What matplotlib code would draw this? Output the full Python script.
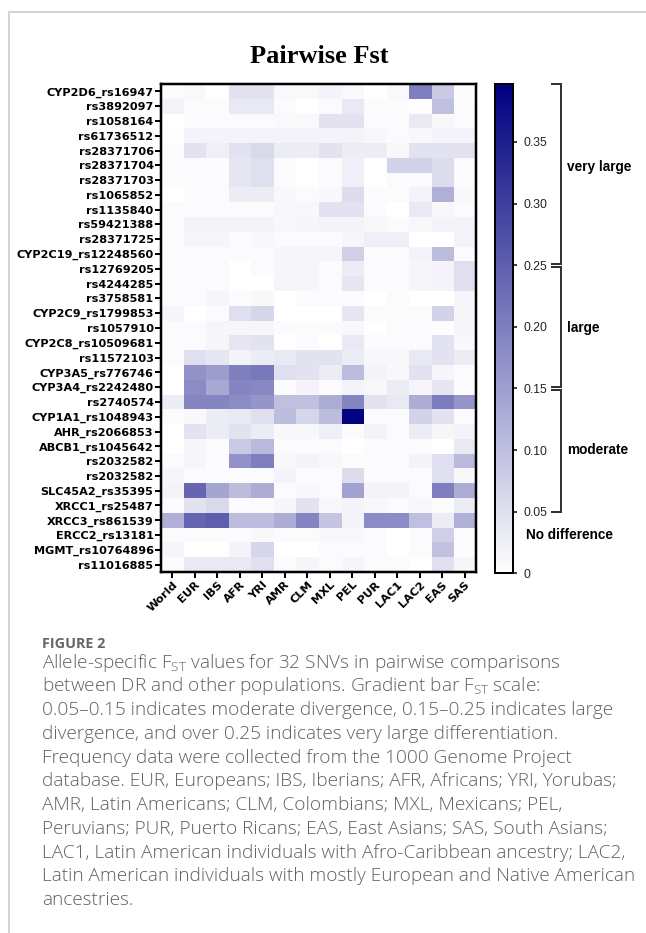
import numpy as np
import matplotlib
matplotlib.use('Agg')
import matplotlib.pyplot as plt
from matplotlib.colors import LinearSegmentedColormap
from matplotlib.lines import Line2D
import matplotlib.transforms as mtransforms

plt.rcParams['mathtext.default'] = 'regular'

populations = ['World', 'EUR', 'IBS', 'AFR', 'YRI', 'AMR', 'CLM', 'MXL',
               'PEL', 'PUR', 'LAC1', 'LAC2', 'EAS', 'SAS']

snvs = ['CYP2D6_rs16947', 'rs3892097', 'rs1058164', 'rs61736512', 'rs28371706',
        'rs28371704', 'rs28371703', 'rs1065852', 'rs1135840', 'rs59421388',
        'rs28371725', 'CYP2C19_rs12248560', 'rs12769205', 'rs4244285', 'rs3758581',
        'CYP2C9_rs1799853', 'rs1057910', 'CYP2C8_rs10509681', 'rs11572103',
        'CYP3A5_rs776746', 'CYP3A4_rs2242480', 'rs2740574', 'CYP1A1_rs1048943',
        'AHR_rs2066853', 'ABCB1_rs1045642', 'rs2032582', 'rs2032582',
        'SLC45A2_rs35395', 'XRCC1_rs25487', 'XRCC3_rs861539', 'ERCC2_rs13181',
        'MGMT_rs10764896', 'rs11016885']

fst = np.array([
    [0.005, 0.01, 0.0, 0.045, 0.045, 0.01, 0.01, 0.02, 0.01, 0.0, 0.01, 0.2, 0.085, 0.005],
    [0.02, 0.007, 0.007, 0.035, 0.035, 0.007, 0.0, 0.007, 0.035, 0.007, 0.007, 0.004, 0.1, 0.007],
    [0.0, 0.007, 0.007, 0.007, 0.007, 0.01, 0.01, 0.045, 0.045, 0.007, 0.007, 0.035, 0.012, 0.007],
    [0.004, 0.02, 0.02, 0.02, 0.02, 0.02, 0.02, 0.02, 0.02, 0.012, 0.007, 0.012, 0.02, 0.02],
    [0.007, 0.045, 0.025, 0.045, 0.06, 0.03, 0.03, 0.045, 0.03, 0.03, 0.012, 0.045, 0.045, 0.045],
    [0.007, 0.007, 0.007, 0.04, 0.05, 0.007, 0.0, 0.007, 0.025, 0.0, 0.07, 0.07, 0.055, 0.007],
    [0.007, 0.007, 0.007, 0.04, 0.05, 0.007, 0.0, 0.007, 0.025, 0.0, 0.007, 0.007, 0.055, 0.007],
    [0.0, 0.007, 0.007, 0.03, 0.03, 0.012, 0.007, 0.012, 0.055, 0.007, 0.007, 0.02, 0.125, 0.012],
    [0.007, 0.007, 0.007, 0.007, 0.007, 0.012, 0.012, 0.045, 0.045, 0.007, 0.0, 0.035, 0.012, 0.007],
    [0.007, 0.02, 0.02, 0.02, 0.02, 0.012, 0.015, 0.02, 0.02, 0.012, 0.007, 0.012, 0.02, 0.02],
    [0.007, 0.015, 0.015, 0.007, 0.012, 0.007, 0.007, 0.007, 0.015, 0.025, 0.025, 0.0, 0.0, 0.02],
    [0.007, 0.007, 0.007, 0.007, 0.007, 0.015, 0.015, 0.015, 0.075, 0.007, 0.007, 0.02, 0.105, 0.007],
    [0.007, 0.007, 0.007, 0.0, 0.007, 0.015, 0.015, 0.007, 0.03, 0.007, 0.007, 0.015, 0.02, 0.05],
    [0.007, 0.007, 0.007, 0.0, 0.0, 0.015, 0.015, 0.007, 0.04, 0.007, 0.007, 0.015, 0.02, 0.05],
    [0.007, 0.007, 0.015, 0.007, 0.012, 0.0, 0.007, 0.007, 0.007, 0.0, 0.007, 0.0, 0.0, 0.015],
    [0.015, 0.0, 0.007, 0.05, 0.065, 0.0, 0.0, 0.0, 0.04, 0.007, 0.007, 0.007, 0.07, 0.015],
    [0.007, 0.007, 0.015, 0.015, 0.015, 0.007, 0.007, 0.007, 0.012, 0.0, 0.007, 0.007, 0.003, 0.015],
    [0.007, 0.007, 0.015, 0.04, 0.045, 0.0, 0.007, 0.0, 0.035, 0.007, 0.007, 0.007, 0.045, 0.012],
    [0.007, 0.05, 0.04, 0.02, 0.03, 0.035, 0.045, 0.045, 0.03, 0.012, 0.012, 0.035, 0.045, 0.03],
    [0.0, 0.17, 0.155, 0.2, 0.21, 0.05, 0.045, 0.03, 0.105, 0.02, 0.012, 0.045, 0.015, 0.007],
    [0.0, 0.18, 0.135, 0.19, 0.185, 0.007, 0.02, 0.007, 0.02, 0.012, 0.03, 0.015, 0.04, 0.007],
    [0.03, 0.19, 0.19, 0.18, 0.165, 0.1, 0.1, 0.13, 0.19, 0.045, 0.035, 0.13, 0.205, 0.165],
    [0.007, 0.012, 0.03, 0.035, 0.05, 0.105, 0.065, 0.105, 0.39, 0.007, 0.007, 0.07, 0.045, 0.007],
    [0.0, 0.045, 0.03, 0.045, 0.03, 0.012, 0.012, 0.025, 0.007, 0.02, 0.007, 0.03, 0.015, 0.02],
    [0.0, 0.015, 0.007, 0.085, 0.11, 0.007, 0.007, 0.007, 0.0, 0.007, 0.007, 0.007, 0.0, 0.035],
    [0.007, 0.015, 0.007, 0.17, 0.2, 0.012, 0.02, 0.012, 0.007, 0.007, 0.007, 0.02, 0.05, 0.11],
    [0.015, 0.007, 0.007, 0.007, 0.007, 0.02, 0.007, 0.007, 0.055, 0.007, 0.007, 0.007, 0.05, 0.012],
    [0.02, 0.24, 0.14, 0.105, 0.13, 0.007, 0.012, 0.007, 0.145, 0.02, 0.02, 0.007, 0.2, 0.13],
    [0.007, 0.045, 0.06, 0.007, 0.007, 0.015, 0.045, 0.012, 0.02, 0.012, 0.007, 0.012, 0.007, 0.03],
    [0.125, 0.24, 0.25, 0.105, 0.105, 0.13, 0.19, 0.09, 0.02, 0.18, 0.18, 0.1, 0.03, 0.125],
    [0.007, 0.007, 0.007, 0.007, 0.012, 0.007, 0.007, 0.012, 0.012, 0.007, 0.0, 0.007, 0.075, 0.007],
    [0.015, 0.0, 0.0, 0.02, 0.065, 0.0, 0.0, 0.007, 0.007, 0.007, 0.0, 0.007, 0.095, 0.007],
    [0.007, 0.035, 0.035, 0.035, 0.05, 0.007, 0.015, 0.007, 0.015, 0.007, 0.007, 0.0, 0.05, 0.015],
])

cbar_ticks = [0, 0.05, 0.10, 0.15, 0.20, 0.25, 0.30, 0.35]
cbar_ticklabels = ['0', '0.05', '0.10', '0.15', '0.20', '0.25', '0.30', '0.35']
category_labels = ['very large', 'large', 'moderate']
category_ranges = [(0.2512, 0.397), (0.1512, 0.2488), (0.05, 0.1488)]
category_label_values = [0.33, 0.199, 0.10]

title = 'Pairwise Fst'
caption_head = 'FIGURE 2'
caption_lines = [
    'Allele-specific F$_{ST}$ values for 32 SNVs in pairwise comparisons',
    'between DR and other populations. Gradient bar F$_{ST}$ scale:',
    '0.05\u20130.15 indicates moderate divergence, 0.15\u20130.25 indicates large',
    'divergence, and over 0.25 indicates very large differentiation.',
    'Frequency data were collected from the 1000 Genome Project',
    'database. EUR, Europeans; IBS, Iberians; AFR, Africans; YRI, Yorubas;',
    'AMR, Latin Americans; CLM, Colombians; MXL, Mexicans; PEL,',
    'Peruvians; PUR, Puerto Ricans; EAS, East Asians; SAS, South Asians;',
    'LAC1, Latin American individuals with Afro-Caribbean ancestry; LAC2,',
    'Latin American individuals with mostly European and Native American',
    'ancestries.',
]
# approximate rendered widths (px) of the reference caption lines, used to size the font
caption_ref_widths = [525, 499, 576, 517, 538, 577, 527, 568, 577, 577]

W, H = 646, 933
fig = plt.figure(figsize=(W / 100, H / 100), dpi=100)


def fx(x):
    return x / W


def fy(y):
    return 1 - y / H


def pt(px):
    return px * 0.72


# page frame
fig.add_artist(Line2D([fx(9), fx(646)], [fy(12), fy(12)], transform=fig.transFigure,
                      color='#d4d4d4', lw=pt(2)))
fig.add_artist(Line2D([fx(9), fx(9)], [fy(12), fy(933)], transform=fig.transFigure,
                      color='#d4d4d4', lw=pt(2)))

# heatmap
ax = fig.add_axes([fx(161), fy(572), (476 - 161) / W, (572 - 84) / H])
cmap = LinearSegmentedColormap.from_list('white_navy', ['#ffffff', '#000080'])
vmax = 0.397
im = ax.imshow(fst, cmap=cmap, vmin=0, vmax=vmax, aspect='auto', interpolation='nearest')
ax.set_xticks(range(len(populations)))
ax.set_xticklabels(populations, rotation=45, ha='right', va='top', rotation_mode='anchor',
                   fontsize=8.2, fontweight='bold', family='DejaVu Sans')
ax.set_yticks(range(len(snvs)))
ax.set_yticklabels(snvs, fontsize=8.1, fontweight='bold', family='DejaVu Sans')
ax.tick_params(length=pt(6), width=pt(2), pad=1)
for s in ax.spines.values():
    s.set_linewidth(pt(2.5))

# colorbar
cax = fig.add_axes([fx(495), fy(573.3), 18 / W, (573.3 - 84) / H])
cb = fig.colorbar(im, cax=cax, ticks=cbar_ticks)
cb.ax.set_yticklabels(cbar_ticklabels, fontsize=8.8, family='Liberation Sans', color='#222222')
cb.outline.set_linewidth(pt(2))
cax.tick_params(length=pt(4), width=pt(1.5), pad=pt(6))

# brackets
tr = mtransforms.blended_transform_factory(fig.transFigure, cax.transData)
xb, xt = fx(560.5), fx(551.5)
for (y0, y1) in category_ranges:
    fig.add_artist(Line2D([xt, xb, xb, xt], [y0, y0, y1, y1], transform=tr,
                          color='#333333', lw=pt(2), solid_joinstyle='miter'))
for lab, yv in zip(category_labels, category_label_values):
    fig.text(fx(567), yv, lab, transform=tr, ha='left', va='center', fontsize=9.8,
             fontweight='bold', family='Liberation Sans')
fig.text(fx(526), fy(535), 'No difference', ha='left', va='center', fontsize=9.8,
         fontweight='bold', family='Liberation Sans')

# title
fig.text(fx(319.5), fy(63), title, ha='center', va='baseline', fontsize=19,
         fontweight='bold', family='Liberation Serif')

# caption
fig.text(fx(42), fy(648), caption_head, ha='left', va='baseline', fontsize=10.4,
         fontweight='bold', family='Open Sans', color='#666666')

renderer = fig.canvas.get_renderer()
probe_total = 0.0
for line in caption_lines[:len(caption_ref_widths)]:
    probe = fig.text(0, 0, line, fontsize=10, family='Open Sans', fontweight='light')
    probe_total += probe.get_window_extent(renderer).width
    probe.remove()
cap_size = 10 * sum(caption_ref_widths) / probe_total

for i, line in enumerate(caption_lines):
    fig.text(fx(42), fy(667.7 + 23.73 * i), line, ha='left', va='baseline', fontsize=cap_size,
             family='Open Sans', fontweight='light', color='#606060')

fig.savefig('out.png', dpi=100)
